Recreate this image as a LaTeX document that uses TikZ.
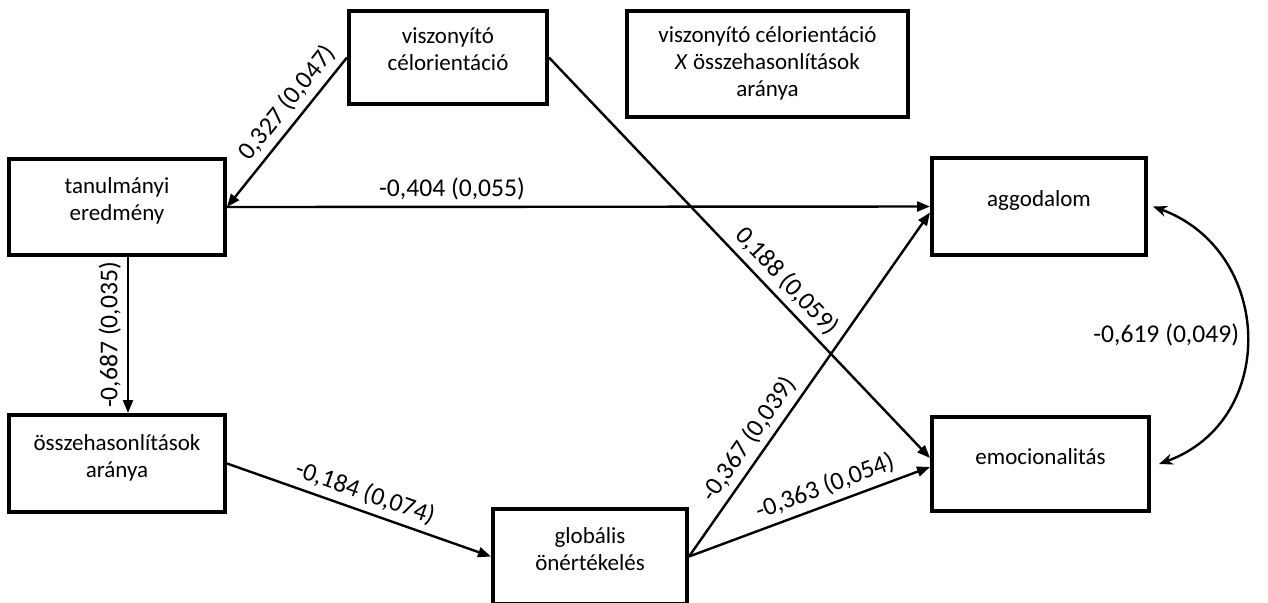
\documentclass[tikz,border=0pt]{standalone}
\usepackage{fontspec}
\setmainfont{Carlito}
\usetikzlibrary{arrows.meta}

\begin{document}
\begin{tikzpicture}[x=0.5pt,y=0.5pt,font=\fontsize{11.5}{13.5}\selectfont,
  var/.style={draw=black,line width=2pt,align=center,text depth=8pt},
  eff/.style={draw=black,line width=1.2pt,-{Triangle[length=6.5pt,width=5pt]}},
  coef/.style={font=\fontsize{12.8}{15}\selectfont,inner sep=3pt}]
  \clip (0,0) rectangle (1268,-602);
  \node[var,minimum width=99pt,minimum height=46.5pt] (celor) at (448,-57.5) {viszonyító\\célorientáció};
  \node[var,text depth=2.5pt,minimum width=140.5pt,minimum height=53pt] (inter) at (767.5,-64) {viszonyító célorientáció\\\textit{X} összehasonlítások\\aránya};
  \node[var,minimum width=108pt,minimum height=48pt] (tanul) at (117,-207) {tanulmányi\\eredmény};
  \node[var,minimum width=108pt,minimum height=48.5pt] (ossze) at (117,-463.5) {összehasonlítások\\aránya};
  \node[var,minimum width=97pt,minimum height=47.5pt] (glob) at (590,-556.5) {globális\\önértékelés};
  \node[var,minimum width=107pt,minimum height=48.5pt] (aggod) at (1039,-206.5) {aggodalom};
  \node[var,minimum width=108.5pt,minimum height=47pt] (emoc) at (1040.5,-464) {emocionalitás};
  % paths
  \draw[eff] (celor.west) -- node[coef,pos=0.38,sloped,above] {0,327 (0,047)} (tanul.east);
  \draw[eff] (tanul.east) -- node[coef,pos=0.32,above] {-0,404 (0,055)} (aggod.west);
  \draw[eff] (celor.east) -- node[coef,pos=0.59,sloped,above] {0,188 (0,059)} ([yshift=3pt]emoc.west);
  \draw[eff] ([xshift=5.5pt]tanul.south) -- node[coef,midway,rotate=90,above] {-0,687 (0,035)} ([xshift=5.5pt]ossze.north);
  \draw[eff] (ossze.east) -- node[coef,midway,sloped,above] {-0,184 (0,074)} (glob.west);
  \draw[eff] (glob.east) -- node[coef,pos=0.31,sloped,above] {-0,367 (0,039)} ([yshift=-3pt]aggod.west);
  \draw[eff] (glob.east) -- node[coef,pos=0.59,sloped,above] {-0,363 (0,054)} ([yshift=-1.5pt]emoc.west);
  % covariance
  \draw[eff,{Stealth[length=7pt,width=5.5pt]}-{Stealth[length=7pt,width=5.5pt]}] ([xshift=2.5pt]aggod.east) to[out=-20,in=20,looseness=1.27] node[coef,left] {-0,619 (0,049)} ([xshift=4pt]emoc.east);
\end{tikzpicture}
\end{document}
